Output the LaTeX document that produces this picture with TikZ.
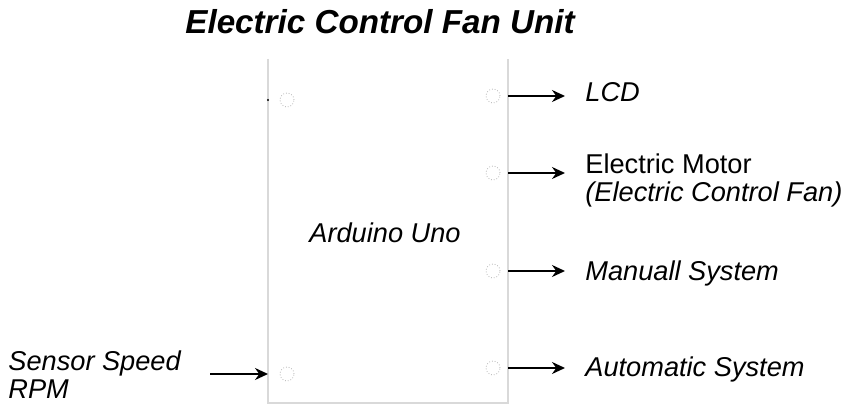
\documentclass[tikz,border=0pt]{standalone}
\usepackage{fontspec}
\setmainfont{Liberation Sans}
\usetikzlibrary{arrows.meta}
\begin{document}
\begin{tikzpicture}[x=0.5pt, y=-0.5pt, font=\fontsize{13.6}{14}\selectfont,
		pin/.style={circle, draw=black!30, densely dotted, inner sep=0pt, minimum size=7pt},
		lbl/.style={anchor=base west, inner sep=0pt},
		arr/.style={-{Stealth[length=6.5pt,width=6pt]}, line width=1pt, shorten >=10pt}]
		\useasboundingbox (0,0) rectangle (851,406);
		\node[font=\fontsize{16.6}{18}\selectfont\bfseries\itshape] (title) at (380,22) {Electric Control Fan Unit};
		% unit outline, open at the top
		\coordinate (edgeL) at (268,0);
		\coordinate (edgeR) at (508,0);
		\draw[black!15, line width=0.7pt] (268,59) -- (268,403) -- (508,403) -- (508,59);
		\node (uno) at (385,233) {\itshape Arduino Uno};
		% pins
		\node[pin] (in1) at (287,100) {};
		\node[pin] (in2) at (287,374) {};
		\node[pin] (out1) at (493,96) {};
		\node[pin] (out2) at (493,173) {};
		\node[pin] (out3) at (493,271) {};
		\node[pin] (out4) at (493,368) {};
		\fill (in1 -| edgeL) circle (0.6pt);
		% labels
		\node[lbl] (lcd) at (585,102) {\itshape LCD};
		\node[anchor=west, align=left, inner sep=0pt] (motor) at (585,180) {Electric Motor\\\itshape (Electric Control Fan)};
		\node[lbl] (manual) at (585,280) {\itshape Manuall System};
		\node[lbl] (auto) at (585,376) {\itshape Automatic System};
		\node[anchor=west, align=left, inner sep=0pt] (sensor) at (8,375) {\itshape Sensor Speed\\\itshape RPM};
		\coordinate (src) at (210,374);
		% connectors
		\draw[arr] (out1 -| edgeR) -- (out1 -| lcd.west);
		\draw[arr] (out2 -| edgeR) -- (out2 -| motor.west);
		\draw[arr] (out3 -| edgeR) -- (out3 -| manual.west);
		\draw[arr] (out4 -| edgeR) -- (out4 -| auto.west);
		\draw[arr, shorten >=0pt] (src) -- (in2 -| edgeL);
	\end{tikzpicture}
\end{document}
